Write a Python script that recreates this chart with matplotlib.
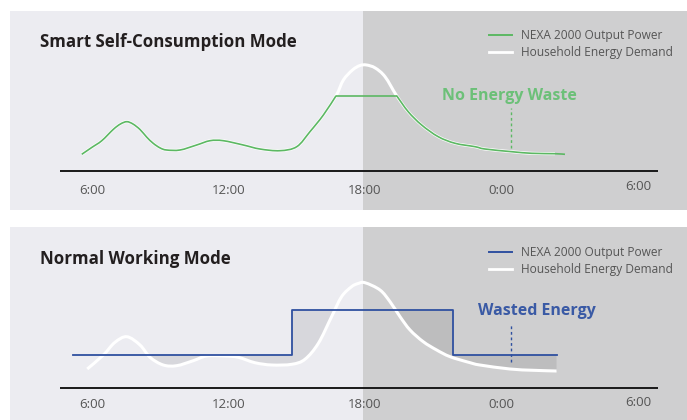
import numpy as np
import matplotlib
matplotlib.use("Agg")
import matplotlib.pyplot as plt
from matplotlib.lines import Line2D
from matplotlib.path import Path
from matplotlib.patches import PathPatch

# ---------------- data (hours on a 6:00 -> 6:00 day, power in W) ----------------
tick_hours = [6, 12, 18, 24, 30]
tick_labels = ["6:00", "12:00", "18:00", "0:00", "6:00"]

# Smart self-consumption mode
demand_top_h = [5.55, 6.00, 6.43, 6.94, 7.25, 7.53, 7.80, 8.11, 8.40, 8.69, 9.00, 9.28,
                9.87, 10.60, 11.19, 11.77, 12.65, 13.38, 14.26, 15.00, 15.58, 16.17,
                16.73, 17.05, 17.45, 17.78, 18.07, 18.45, 18.88, 19.39, 19.90, 20.49,
                21.22, 21.96, 22.84, 23.27, 24.45, 25.33, 26.35]
demand_top = [167, 237, 303, 417, 470, 493, 470, 415, 340, 277, 230, 210,
              210, 260, 303, 303, 260, 220, 203, 243, 393, 560,
              753, 910, 1010, 1055, 1060, 1030, 943, 753, 593, 460,
              343, 277, 243, 220, 193, 177, 173]
# output: rising part, then capped plateau, then falling part
output_top_h = [5.55, 6.00, 6.43, 6.94, 7.25, 7.53, 7.80, 8.11, 8.40, 8.69, 9.00, 9.28,
                9.87, 10.60, 11.19, 11.77, 12.65, 13.38, 14.26, 15.00, 15.58, 16.17,
                16.73, 19.39, 19.90, 20.49, 21.22, 21.96, 22.84, 23.27, 24.45, 25.33,
                26.35, 26.79]
output_top = [167, 237, 303, 417, 470, 493, 470, 415, 340, 277, 230, 210,
              210, 260, 303, 303, 260, 220, 203, 243, 393, 560,
              753, 753, 593, 460, 343, 277, 243, 220, 193, 177,
              173, 167]
plateau_start, plateau_end = 16.73, 19.39

# Normal working mode
demand_bot_h = [5.79, 6.50, 7.00, 7.53, 8.11, 8.55, 9.13, 9.72, 10.45, 11.04, 11.85,
                12.43, 13.16, 13.90, 14.78, 15.36, 15.95, 16.53, 16.97, 17.41, 17.70,
                18.00, 18.66, 19.10, 19.54, 19.98, 20.56, 21.15, 21.74, 22.62, 23.05,
                24.37, 25.40, 26.42]
demand_bot = [190, 330, 455, 513, 430, 307, 230, 223, 273, 320, 320,
              307, 253, 230, 237, 287, 447, 713, 913, 1013, 1045,
              1053, 980, 863, 713, 580, 463, 380, 313, 253, 230,
              190, 177, 170]
output_bot_h = [5.18, 14.77, 21.85, 26.42]
output_bot = [330, 777, 330, 330]

# ---------------- styling ----------------
W, H = 687, 420
PXH = 22.75        # pixels per hour
X6 = 92            # pixel x of the first 6:00
FONT = ["Open Sans", "DejaVu Sans"]
LIGHT = "#ececf1"
DARK = "#cfcfd0"
GREEN = "#5cb863"
GREEN_TXT = "#6cc078"
BLUE = "#2f50a0"
BLUE_TXT = "#3a5aa5"
TXT = "#555555"
TITLE = "#231f20"

plt.rcParams["font.family"] = FONT

fig = plt.figure(figsize=(W / 100, H / 100), dpi=100)
fig.patch.set_facecolor("white")


def hx(px):
    return 6 + (px - X6) / PXH


def smooth_path(xs, ys):
    """Catmull-Rom curve through the given points, as cubic Bezier path."""
    p = np.column_stack([xs, ys]).astype(float)
    ext = np.vstack([p[0], p, p[-1]])
    verts = [p[0]]
    codes = [Path.MOVETO]
    for i in range(len(p) - 1):
        p0, p1, p2, p3 = ext[i], ext[i + 1], ext[i + 2], ext[i + 3]
        verts += [p1 + (p2 - p0) / 6, p2 - (p3 - p1) / 6, p2]
        codes += [Path.CURVE4] * 3
    return Path(np.array(verts), codes)


def draw_smooth(ax, xs, ys, **kw):
    ax.add_patch(PathPatch(smooth_path(xs, ys), fill=False, capstyle="butt",
                           joinstyle="round", **kw))


def flatten(xs, ys):
    poly = smooth_path(xs, ys).to_polygons(closed_only=False)[0]
    order = np.argsort(poly[:, 0], kind="stable")
    return poly[order, 0], poly[order, 1]


def make_panel(top, bottom, axis_y):
    ax = fig.add_axes([10 / W, 1 - bottom / H, (W - 10) / W, (bottom - top) / H])
    ax.set_xlim(hx(10), hx(W))
    ax.set_ylim(-(bottom - axis_y) * 10, (axis_y - top) * 10)
    ax.set_facecolor(LIGHT)
    for s in ax.spines.values():
        s.set_visible(False)
    ax.set_xticks([])
    ax.set_yticks([])
    ax.axvspan(17.93, hx(W), color=DARK, lw=0, zorder=0)
    ax.hlines(0, hx(60), hx(658), color="#1a1a1a", lw=1.4, zorder=2)
    return ax


def ticks(ax, y_main, y_last):
    for h, lab in zip(tick_hours, tick_labels):
        ax.text(h, y_last if h == 30 else y_main, lab, ha="center", va="center",
                fontsize=9.5, color=TXT)


def legend(ax, color, y_top):
    handles = [Line2D([], [], color=color, lw=1.4),
               Line2D([], [], color="white", lw=2.0)]
    ax.legend(handles, ["NEXA 2000 Output Power", "Household Energy Demand"],
              loc="upper left", bbox_to_anchor=(489 / W, 1 - y_top / H),
              bbox_transform=fig.transFigure, frameon=False,
              prop={"size": 8.6, "family": FONT},
              handlelength=1.95, handletextpad=0.72, labelspacing=0.33,
              borderpad=0, borderaxespad=0, labelcolor=TXT)


# ---------------- top panel ----------------
ax1 = make_panel(11, 210, 171)
draw_smooth(ax1, demand_top_h, demand_top, color="white", lw=2.2, zorder=3)
oh = np.array(output_top_h)
ov = np.array(output_top)
rise = oh <= plateau_start
fall = oh >= plateau_end
draw_smooth(ax1, oh[rise], ov[rise], color=GREEN, lw=1.2, zorder=4)
ax1.plot([plateau_start, plateau_end], [ov[rise][-1], ov[fall][0]], color=GREEN,
         lw=1.2, zorder=4, solid_capstyle="butt")
draw_smooth(ax1, oh[fall], ov[fall], color=GREEN, lw=1.2, zorder=4)
ax1.vlines(24.42, 230, 630, color=GREEN, lw=1.0, linestyles=(0, (2, 2)), zorder=3)
ax1.text(hx(509.5), (171 - 96) * 10, "No Energy Waste", ha="center", va="center",
         fontsize=11.5, fontweight="bold", color=GREEN_TXT)
ticks(ax1, (171 - 190) * 10, (171 - 187) * 10)
legend(ax1, GREEN, 29)
fig.text(40 / W, 1 - 47 / H, "Smart Self-Consumption Mode", fontsize=12.2,
         fontweight="bold", color=TITLE, va="baseline")

# ---------------- bottom panel ----------------
ax2 = make_panel(227, 420, 388)
fx, fy = flatten(demand_bot_h, demand_bot)
edges = np.array(output_bot_h, float)
grid = np.unique(np.concatenate([np.linspace(fx[0], fx[-1], 1500), fx,
                                 edges[1:-1] - 1e-6, edges[1:-1]]))
grid = grid[(grid >= fx[0]) & (grid <= edges[-1])]
dem_g = np.interp(grid, fx, fy)
idx = np.searchsorted(edges, grid, side="right") - 1
out_g = np.array(output_bot, float)[np.clip(idx, 0, len(output_bot) - 1)]
ax2.fill_between(grid, dem_g, out_g, where=(out_g >= dem_g) & (grid > demand_bot_h[3]),
                 interpolate=True, color="black", alpha=0.085, lw=0, zorder=1)
draw_smooth(ax2, demand_bot_h, demand_bot, color="white", lw=2.2, zorder=3)
ax2.plot(output_bot_h, output_bot, color=BLUE, lw=1.3, drawstyle="steps-post", zorder=4)
ax2.vlines(24.42, 260, 630, color=BLUE, lw=1.0, linestyles=(0, (2, 2)), zorder=3)
ax2.text(hx(536.5), (388 - 311) * 10, "Wasted Energy", ha="center", va="center",
         fontsize=11.5, fontweight="bold", color=BLUE_TXT)
ticks(ax2, (388 - 404) * 10, (388 - 402) * 10)
legend(ax2, BLUE, 246)
fig.text(40 / W, 1 - 264 / H, "Normal Working Mode", fontsize=12.2,
         fontweight="bold", color=TITLE, va="baseline")

fig.savefig("out.png", dpi=100, facecolor=fig.get_facecolor())
